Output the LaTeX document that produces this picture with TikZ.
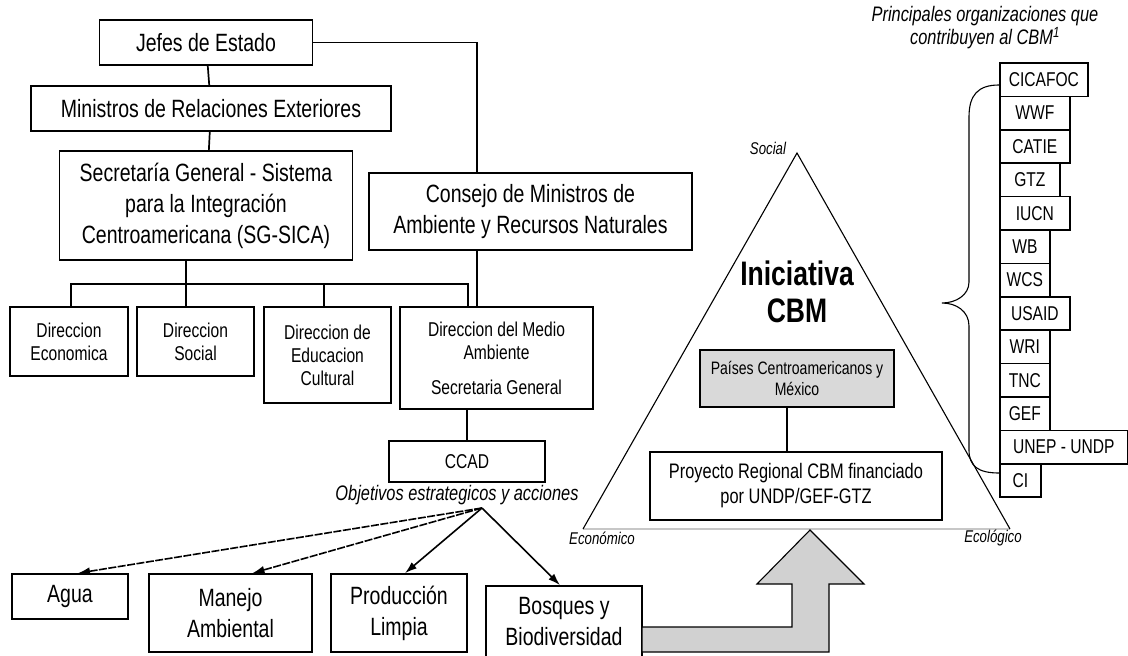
\documentclass[tikz,border=0pt]{standalone}
\usepackage{fontspec}
\setmainfont{Liberation Sans}[FakeStretch=0.78]
\usetikzlibrary{arrows.meta,positioning}

\newcommand\bigtxt{\fontsize{25}{31}\selectfont}
\newcommand\midtxt{\fontsize{20}{23}\selectfont}
\newcommand\smalltxt{\fontsize{18}{21}\selectfont}
\newcommand\tinytxt{\fontsize{17}{19}\selectfont\itshape}

\tikzset{
  box/.style={draw, line width=1.7pt, inner sep=0pt, align=center},
  org/.style={box, minimum height=33.4, anchor=west, font=\midtxt},
  link/.style={line width=1.7pt},
  goal/.style={-{Latex[length=12pt,width=8pt]}, line width=1.6pt},
}

\begin{document}
\begin{tikzpicture}[x=1pt,y=-1pt]
\useasboundingbox (0,0) rectangle (1128,656);

% Governing bodies
\node[box, minimum width=213, minimum height=45, font=\bigtxt] (jefes) at (206,42.5) {Jefes de Estado};
\node[box, minimum width=360, minimum height=45, font=\bigtxt] (minrel) at (211,108.5) {Ministros de Relaciones Exteriores};
\node[box, minimum width=293, minimum height=109, font=\bigtxt] (sgsica) at (206,205.5) {Secretaría General - Sistema\\para la Integración\\Centroamericana (SG-SICA)};
\node[box, minimum width=323, minimum height=77, font=\bigtxt] (consejo) at (530.5,211.5) {Consejo de Ministros de\\Ambiente y Recursos Naturales};

\draw[link] (jefes) -- (minrel);
\draw[link] (minrel) -- (sgsica);
\coordinate (trunk) at (477,0);
\draw[link] (jefes.east) -| (consejo.north -| trunk);

% Directorates
\node[box, minimum width=118, minimum height=69, font=\midtxt] (direco) at (69,341.5) {Direccion\\Economica};
\node[box, minimum width=117, minimum height=69, font=\midtxt] (dirsoc) at (195.5,341.5) {Direccion\\Social};
\node[box, minimum width=127, minimum height=96, font=\midtxt] (diredu) at (327.5,355) {Direccion de\\Educacion\\Cultural};
\node[box, minimum width=193, minimum height=102, font=\midtxt] (dirma) at (496.5,358) {Direccion del Medio\\Ambiente\\[12pt]Secretaria General};

\coordinate (hub) at (186,284);
\coordinate (bl) at (71,284);
\coordinate (bm) at (324,284);
\coordinate (br) at (468,284);
\draw[link] (sgsica.south -| hub) -- (hub |- dirsoc.north);
\draw[link] (bl |- direco.north) -- (bl) -- (br) -- (br |- dirma.north);
\draw[link] (bm) -- (bm |- diredu.north);
\draw[link] (consejo.south -| trunk) -- (dirma.north -| trunk);

% CCAD and its goals
\node[box, minimum width=156, minimum height=41, font=\midtxt] (ccad) at (467,461.5) {CCAD};
\draw[link] (dirma.south -| ccad.north) -- (ccad.north);
\node[font=\fontsize{21}{23}\selectfont\itshape] (obj) at (457,495) {Objetivos estrategicos y acciones};
\coordinate (fork) at (482,508);

\node[box, minimum width=116, minimum height=45, font=\bigtxt] (agua) at (70,596.5) {Agua};
\node[box, minimum width=163, minimum height=78, font=\bigtxt] (manejo) at (230.5,613) {Manejo\\Ambiental};
\node[box, minimum width=136, minimum height=78, font=\bigtxt] (prod) at (399,613) {Producción\\Limpia};
\node[box, minimum width=156, minimum height=72, font=\bigtxt] (bosques) at (564,622) {Bosques y\\Biodiversidad};

\draw[goal, dash pattern=on 8pt off 1.5pt] (fork) -- ([xshift=8]agua.north);
\draw[goal, dash pattern=on 8pt off 1.5pt] (fork) -- ([xshift=22]manejo.north);
\draw[goal] (fork) -- ([xshift=6]prod.north);
\draw[goal] (fork) -- ([xshift=-4]bosques.north);

% CBM triangle
\coordinate (soc) at (797,153);
\coordinate (eco) at (583,529);
\coordinate (ecol) at (1010,529);
\draw[line width=2.5pt, black!22] (eco) -- (ecol);
\draw[line width=1.1pt] (eco) -- (soc) -- (ecol);
\node[font=\tinytxt] (lsoc) at (768,148) {Social};
\node[font=\tinytxt] (leco) at (602,538) {Económico};
\node[font=\tinytxt] (lecol) at (993,538) {Ecológico};

\node[font=\fontsize{34}{37}\selectfont\bfseries, align=center] (cbm) at (797,292) {Iniciativa\\CBM};
\node[box, fill=black!15, minimum width=194, minimum height=57, font=\smalltxt] (paises) at (797,378.5) {Países Centroamericanos y\\México};
\node[box, minimum width=292, minimum height=68, font=\fontsize{21}{25}\selectfont] (proyecto) at (796,486) {Proyecto Regional CBM financiado\\por UNDP/GEF-GTZ};
\draw[link] ([xshift=-10]paises.south) -- ([xshift=-9]proyecto.north);

% Big arrow from Bosques into the triangle
\draw[line width=1.1pt, fill=black!18] (642,627) -- (792,627) -- (792,584) -- (757,584) -- (810,530)
  -- (864,584) -- (829,584) -- (829,652) -- (642,652) -- cycle;

% Contributing organisations
\node[font=\fontsize{21}{21}\selectfont\itshape, align=center] (title) at (985,28) {Principales organizaciones que\\contribuyen al CBM\textsuperscript{1}};
\node[org, minimum width=88] (cicafoc) at (999,79.7) {CICAFOC};
\node[org, minimum width=70] (wwf) at (999,113.1) {WWF};
\node[org, minimum width=70] (catie) at (999,146.5) {CATIE};
\node[org, minimum width=60] (gtz) at (999,179.9) {GTZ};
\node[org, minimum width=70] (iucn) at (999,213.3) {IUCN};
\node[org, minimum width=50] (wb) at (999,246.7) {WB};
\node[org, minimum width=50] (wcs) at (999,280.1) {WCS};
\node[org, minimum width=70] (usaid) at (999,313.5) {USAID};
\node[org, minimum width=50] (wri) at (999,346.9) {WRI};
\node[org, minimum width=50] (tnc) at (999,380.3) {TNC};
\node[org, minimum width=50] (gef) at (999,413.7) {GEF};
\node[org, minimum width=128] (unep) at (999,447.1) {UNEP - UNDP};
\node[org, minimum width=41] (ci) at (999,480.5) {CI};

% brace
\draw[line width=1.1pt] (999,85) .. controls (978,85) and (969,95) .. (969,117) -- (969,282)
  .. controls (969,295) and (956,303) .. (942,303) .. controls (956,303) and (969,311) .. (969,326)
  -- (969,450) .. controls (969,466) and (978,473) .. (999,473);
\end{tikzpicture}
\end{document}
